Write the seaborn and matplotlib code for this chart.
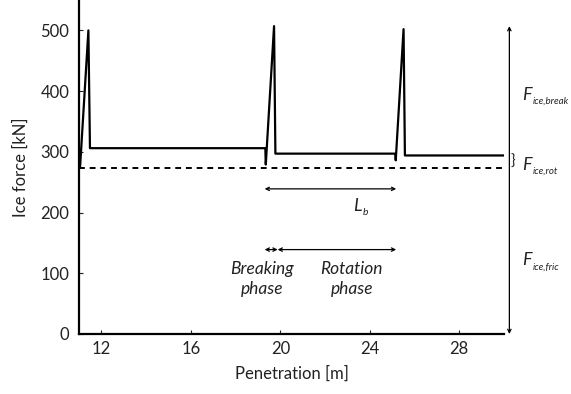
import matplotlib
matplotlib.use("Agg")
import matplotlib.pyplot as plt
import seaborn as sns
import pandas as pd

# Data
penetration = [11.05, 11.42, 11.49, 19.33, 19.35, 19.72, 19.78, 25.14, 25.16, 25.51, 25.57, 30.0]
ice_force = [276, 500, 306, 306, 279, 507, 297, 297, 286, 502, 294, 294]
rot_level = 274
x_ticks = [12, 16, 20, 24, 28]
y_ticks = [0, 100, 200, 300, 400, 500]
lb_start, lb_end = 19.30, 25.18
break_end = 19.88
force_labels = [("ice,break", 394), ("ice,rot", 279), ("ice,fric", 122)]

sns.set_style("ticks")
plt.rcParams['font.family'] = ['Lato', 'DejaVu Sans']

fig = plt.figure(figsize=(5.71, 3.94), dpi=100)
ax = fig.add_axes([79/571, 60/394, (504-79)/571, 334/394])

df = pd.DataFrame({"Penetration": penetration, "Force": ice_force})
sns.lineplot(data=df, x="Penetration", y="Force", ax=ax, color="black",
             linewidth=1.6, sort=False, estimator=None)
dash_df = pd.DataFrame({"Penetration": [11, 30], "Force": [rot_level, rot_level]})
sns.lineplot(data=dash_df, x="Penetration", y="Force", ax=ax, color="black",
             linewidth=1.4, linestyle=(0, (3, 2.5)))

ax.set_xlim(11, 30)
ax.set_ylim(0, 550)
ax.set_xticks(x_ticks)
ax.set_yticks(y_ticks)
ax.tick_params(direction="in", length=3, width=0.8, labelsize=12, colors="#222222")
ax.tick_params(axis="x", pad=5)
ax.tick_params(axis="y", pad=7)
for s in ["top", "right"]:
    ax.spines[s].set_visible(False)
for s in ["left", "bottom"]:
    ax.spines[s].set_linewidth(1.6)
    ax.spines[s].set_color("black")
ax.set_xlabel("Penetration [m]", fontsize=12, color="#222222", labelpad=6)
ax.set_ylabel("Ice force [kN]", fontsize=12, color="#222222", labelpad=8)

aprops = dict(arrowstyle="<->", color="black", lw=0.9, shrinkA=0, shrinkB=0,
              mutation_scale=6)
# Right-side vertical dimension line
ax.annotate("", xy=(30.24, 0), xytext=(30.24, 507), arrowprops=aprops,
            annotation_clip=False)
ax.text(30.3, (294 + rot_level) / 2, "}", fontsize=11, va="center", ha="left",
        clip_on=False)
for sub, yv in force_labels:
    ax.text(30.8, yv, "F", fontsize=13, style="italic", va="center", ha="left",
            clip_on=False, color="#222222")
    ax.annotate(sub, xy=(30.8, yv), xytext=(8, -5), textcoords="offset points",
                fontsize=7, style="italic", va="center", ha="left",
                annotation_clip=False, color="#222222")

# L_b arrow
ax.annotate("", xy=(lb_start, 239), xytext=(lb_end, 239), arrowprops=aprops)
ax.text(23.45, 210, "L", fontsize=13, style="italic", ha="center", va="center",
        color="#222222")
ax.annotate("b", xy=(23.45, 210), xytext=(4, -4), textcoords="offset points",
            fontsize=7.5, style="italic", ha="left", va="center", color="#222222")

# Phase arrows
ax.annotate("", xy=(lb_start, 139), xytext=(break_end, 139), arrowprops=aprops)
ax.annotate("", xy=(break_end, 139), xytext=(lb_end, 139), arrowprops=aprops)
ax.text(19.17, 91, "Breaking\nphase", fontsize=12.5, style="italic", ha="center",
        va="center", linespacing=1.3, color="#222222")
ax.text(23.19, 91, "Rotation\nphase", fontsize=12.5, style="italic", ha="center",
        va="center", linespacing=1.3, color="#222222")

fig.savefig("out.png", dpi=100)
